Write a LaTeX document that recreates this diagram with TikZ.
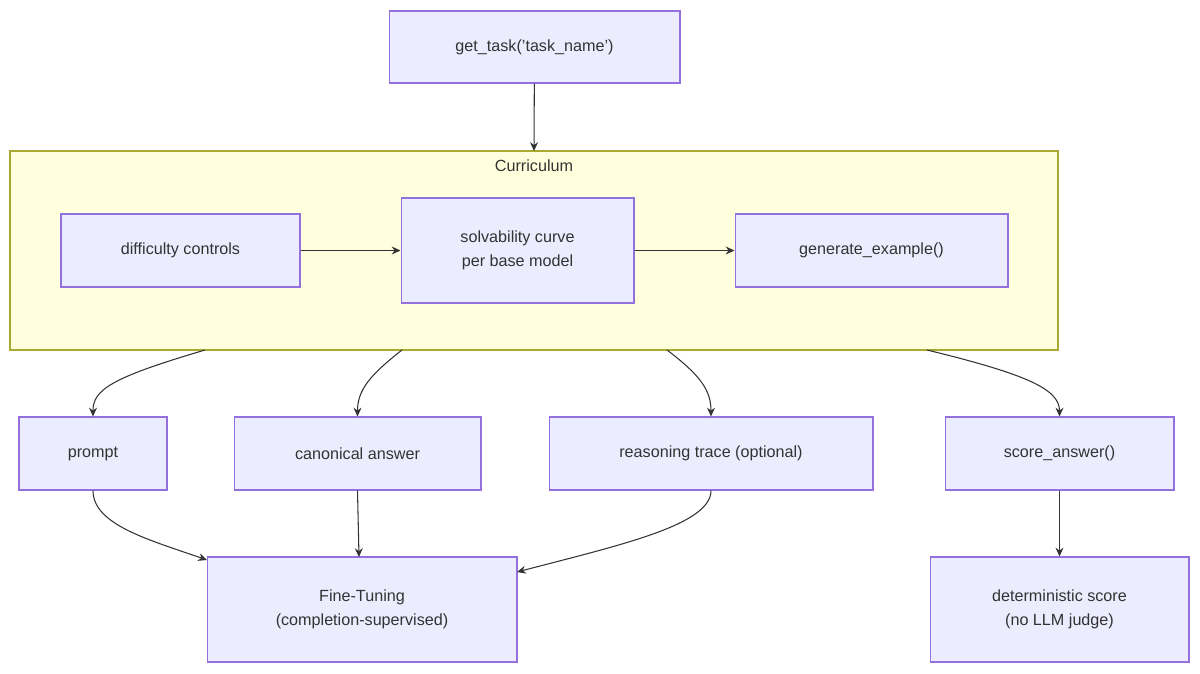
\documentclass[tikz,border=0pt]{standalone}
\usepackage{fontspec}
\setmainfont{Liberation Sans}
\usetikzlibrary{arrows.meta,positioning}
\definecolor{boxfill}{HTML}{ECECFF}
\definecolor{boxline}{HTML}{9370DB}
\definecolor{clfill}{HTML}{FFFFDE}
\definecolor{clline}{HTML}{AAAA33}
\definecolor{ink}{HTML}{333333}
\tikzset{
	box/.style={draw=boxline, fill=boxfill, line width=0.6pt, align=center,
		text=ink, font=\fontsize{9.2}{13.5}\selectfont, inner sep=0pt},
	link/.style={draw=ink, line width=0.6pt, -{Stealth[length=5pt,width=4.5pt]}}
}
\begin{document}
\begin{tikzpicture}[x=0.02cm, y=-0.02cm]
	\useasboundingbox (0,0) rectangle (1200,673);
	% curriculum cluster
	\draw[clline, fill=clfill, line width=0.6pt] (10,151) rectangle (1058,350);
	\node[text=ink, font=\fontsize{9.2}{11}\selectfont] (curlabel) at (534,166) {Curriculum};
	\coordinate (ctop) at (534,151);
	\coordinate (cb1) at (205,350);
	\coordinate (cb2) at (402,350);
	\coordinate (cb3) at (667,350);
	\coordinate (cb4) at (927,350);

	\node[box, minimum width=5.82cm, minimum height=1.44cm] (gettask) at (534.5,47) {get\_task('task\_name')};
	\node[box, minimum width=4.78cm, minimum height=1.46cm] (difficulty) at (180.5,250.5) {difficulty controls};
	\node[box, minimum width=4.66cm, minimum height=2.1cm] (solvability) at (517.5,250.5) {solvability curve\\per base model};
	\node[box, minimum width=5.46cm, minimum height=1.46cm] (generate) at (871.5,250.5) {generate\_example()};

	\node[box, minimum width=2.96cm, minimum height=1.46cm] (prompt) at (93,453.5) {prompt};
	\node[box, minimum width=4.94cm, minimum height=1.46cm] (canonical) at (357.5,453.5) {canonical answer};
	\node[box, minimum width=6.48cm, minimum height=1.46cm] (reasoning) at (711,453.5) {reasoning trace (optional)};
	\node[box, minimum width=4.58cm, minimum height=1.46cm] (scoreans) at (1059.5,453.5) {score\_answer()};

	\node[box, minimum width=6.2cm, minimum height=2.1cm] (finetune) at (362,609.5) {Fine-Tuning\\(completion-supervised)};
	\node[box, minimum width=5.18cm, minimum height=2.1cm] (detscore) at (1059.5,609.5) {deterministic score\\(no LLM judge)};

	\draw[link] (gettask) -- (ctop);
	\draw[link] (difficulty) -- (solvability);
	\draw[link] (solvability) -- (generate);

	\draw[link] (cb1) .. controls (110,378) and (93,390) .. (prompt.north);
	\draw[link] (cb2) .. controls (370,375) and (357.5,390) .. (canonical.north);
	\draw[link] (cb3) .. controls (700,375) and (711,390) .. (reasoning.north);
	\draw[link] (cb4) .. controls (1030,375) and (1059.5,390) .. (scoreans.north);

	\draw[link] (prompt.south) .. controls (93,525) and (150,540) .. (207,560);
	\draw[link] (canonical.south) -- (359,557);
	\draw[link] (reasoning.south) .. controls (711,525) and (620,545) .. (517,572);
	\draw[link] (scoreans) -- (detscore);
\end{tikzpicture}
\end{document}
